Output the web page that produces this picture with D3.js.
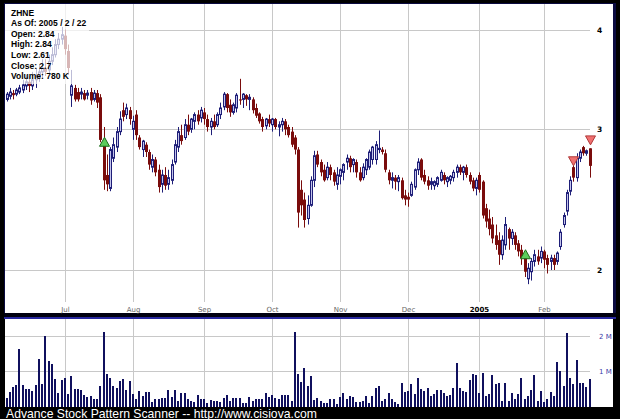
<!DOCTYPE html>
<html><head><meta charset="utf-8">
<script src="https://cdn.jsdelivr.net/npm/d3@7"></script>
<style>html,body{margin:0;padding:0;background:#000;} svg{display:block}</style>
</head><body>
<svg id="c" width="620" height="419"></svg>
<script>
const openP = [3.27,3.30,3.33,3.32,3.34,3.36,3.40,3.44,3.40,3.46, 3.48,3.54,3.58,3.56,3.65,3.72,3.83,3.89,3.93,3.76, 3.31,3.38,3.34,3.32,3.33,3.31,3.34,3.27,3.33,3.29, 2.91,2.63,2.53,2.76,2.85,2.98,3.17,3.13,3.17,3.00, 3.13,2.93,2.83,2.87,2.81,2.69,2.75,2.67,2.56,2.63, 2.56,2.59,2.73,2.85,2.95,2.93,3.04,3.00,3.07,3.13, 3.10,3.15,3.09,3.02,3.07,3.04,3.13,3.20,3.32,3.22, 3.15,3.19,3.27,3.27,3.31,3.27,3.27,3.19,3.14,3.09, 3.03,3.09,3.04,3.09,3.02,3.04,3.07,3.02,2.98,2.93, 2.83,2.52,2.45,2.32,2.41,2.59,2.79,2.73,2.67,2.61, 2.69,2.65,2.56,2.62,2.65,2.73,2.76,2.71,2.73,2.65, 2.61,2.67,2.69,2.75,2.75,2.83,2.83,2.80,2.65,2.59, 2.61,2.58,2.59,2.48,2.47,2.48,2.54,2.67,2.75,2.63, 2.59,2.56,2.55,2.56,2.59,2.63,2.58,2.59,2.61,2.65, 2.69,2.65,2.69,2.63,2.59,2.53,2.63,2.58,2.39,2.32, 2.28,2.21,2.18,2.09,2.15,2.25,2.19,2.21,2.16,2.12, 2.09,1.95,1.99,2.05,2.08,2.07,2.11,2.07,2.05,2.07, 2.05,2.14,2.28,2.37,2.51,2.69,2.61,2.76,2.85,2.80, 2.84];
const highP = [3.34,3.38,3.36,3.38,3.41,3.46,3.51,3.50,3.54,3.58, 3.62,3.67,3.67,3.72,3.80,3.89,3.96,4.03,4.00,3.83, 3.56,3.41,3.38,3.38,3.36,3.36,3.38,3.36,3.36,3.32, 3.02,2.79,2.85,2.93,3.02,3.16,3.24,3.23,3.20,3.12, 3.17,2.95,2.91,2.89,2.83,2.79,2.77,2.71,2.67,2.69, 2.67,2.75,2.91,3.02,3.04,3.09,3.13,3.10,3.15,3.17, 3.20,3.19,3.13,3.10,3.13,3.15,3.24,3.34,3.33,3.27, 3.24,3.33,3.47,3.33,3.32,3.32,3.29,3.23,3.15,3.11, 3.10,3.13,3.10,3.10,3.07,3.10,3.09,3.04,3.02,2.95, 2.85,2.59,2.50,2.48,2.62,2.82,2.82,2.75,2.71,2.73, 2.71,2.67,2.69,2.68,2.72,2.79,2.78,2.76,2.75,2.69, 2.72,2.76,2.83,2.86,2.90,2.99,2.85,2.83,2.67,2.65, 2.63,2.63,2.61,2.52,2.50,2.58,2.68,2.76,2.76,2.67, 2.62,2.61,2.59,2.62,2.67,2.65,2.62,2.63,2.67,2.71, 2.71,2.70,2.71,2.65,2.61,2.61,2.65,2.59,2.42,2.38, 2.33,2.28,2.23,2.21,2.33,2.26,2.25,2.23,2.18,2.15, 2.10,2.04,2.07,2.12,2.12,2.14,2.12,2.09,2.09,2.09, 2.11,2.25,2.36,2.52,2.62,2.71,2.80,2.83,2.86,2.83, 2.84];
const lowP = [3.25,3.27,3.27,3.30,3.32,3.33,3.36,3.34,3.36,3.38, 3.44,3.48,3.50,3.52,3.61,3.69,3.78,3.83,3.72,3.51, 3.20,3.25,3.25,3.27,3.26,3.27,3.22,3.25,3.19,2.89, 2.52,2.51,2.51,2.73,2.81,2.95,3.07,3.09,3.04,2.91, 2.91,2.83,2.77,2.77,2.67,2.65,2.62,2.50,2.50,2.52, 2.52,2.56,2.71,2.81,2.87,2.91,2.95,2.97,3.00,3.04, 3.06,3.04,2.98,2.95,3.00,3.02,3.09,3.17,3.15,3.11, 3.13,3.15,3.22,3.19,3.21,3.17,3.14,3.10,3.05,2.98, 3.00,3.02,2.98,3.00,2.94,2.98,2.95,2.93,2.85,2.79, 2.26,2.34,2.26,2.28,2.40,2.54,2.69,2.62,2.58,2.59, 2.59,2.55,2.52,2.56,2.59,2.67,2.65,2.65,2.61,2.58, 2.59,2.63,2.67,2.71,2.71,2.80,2.79,2.65,2.56,2.53, 2.52,2.51,2.45,2.41,2.40,2.47,2.52,2.63,2.59,2.56, 2.52,2.52,2.52,2.54,2.58,2.56,2.54,2.56,2.58,2.61, 2.63,2.59,2.61,2.56,2.51,2.48,2.50,2.32,2.26,2.21, 2.16,2.12,2.03,2.06,2.12,2.12,2.15,2.12,2.08,2.03, 1.96,1.92,1.94,2.02,2.03,2.04,2.01,1.98,2.00,2.00, 2.03,2.12,2.26,2.34,2.48,2.58,2.58,2.73,2.78,2.78, 2.61];
const closeP = [3.32,3.34,3.31,3.36,3.38,3.41,3.44,3.40,3.46,3.50, 3.54,3.58,3.54,3.65,3.72,3.83,3.89,3.94,3.78,3.58, 3.40,3.27,3.27,3.34,3.27,3.33,3.26,3.33,3.24,2.91, 2.59,2.56,2.83,2.87,2.98,3.09,3.11,3.19,3.09,3.07, 2.95,2.85,2.90,2.81,2.71,2.75,2.65,2.54,2.63,2.55, 2.61,2.71,2.87,2.98,2.90,3.04,2.98,3.09,3.13,3.07, 3.17,3.09,3.02,3.07,3.02,3.13,3.19,3.32,3.19,3.15, 3.22,3.31,3.26,3.32,3.27,3.29,3.17,3.12,3.07,3.02, 3.09,3.05,3.09,3.02,3.04,3.07,3.00,2.95,2.87,2.83, 2.36,2.41,2.31,2.41,2.59,2.78,2.71,2.65,2.59,2.69, 2.63,2.58,2.63,2.67,2.71,2.76,2.69,2.75,2.65,2.59, 2.69,2.75,2.81,2.85,2.87,2.84,2.81,2.67,2.59,2.61, 2.58,2.61,2.46,2.45,2.45,2.56,2.67,2.73,2.61,2.58, 2.55,2.58,2.58,2.61,2.65,2.59,2.61,2.62,2.65,2.69, 2.65,2.69,2.63,2.58,2.53,2.59,2.52,2.34,2.30,2.25, 2.19,2.15,2.09,2.18,2.28,2.19,2.23,2.15,2.11,2.07, 1.99,2.01,2.05,2.09,2.05,2.11,2.06,2.03,2.07,2.03, 2.10,2.23,2.34,2.50,2.59,2.61,2.76,2.81,2.80,2.82, 2.70];
// volume in millions of shares
const volumeM = [0.23,0.41,0.55,0.6,1.63,0.6,0.49,0.49,0.45,0.6, 1.36,0.63,2.0,1.3,1.2,0.79,0.39,0.74,0.82,0.36, 0.86,0.49,0.49,0.47,0.34,0.26,0.3,0.22,0.2,0.57, 2.12,0.91,0.8,0.57,0.53,0.71,0.79,0.47,0.71,0.36, 0.2,0.45,0.3,0.4,0.42,0.14,0.22,0.21,0.25,0.23, 0.47,0.27,0.47,0.15,0.37,0.37,0.2,0.15,0.12,0.32, 0.22,0.22,0.1,0.18,0.17,0.15,0.13,0.25,0.32,0.15, 0.23,0.25,0.23,0.11,0.11,0.27,0.17,0.2,0.2,0.22, 0.38,0.27,0.32,0.25,0.2,0.32,0.34,0.32,0.17,2.11, 0.93,0.7,1.1,0.57, 0.86,0.19,0.25,0.15,0.1,0.1, 0.2,0.2,0.08,0.27,0.38,0.2,0.3,0.27,0.12,0.12, 0.15,0.3,0.1,0.3,0.53,0.59,0.17,0.2,0.38,0.22, 0.13,0.07,0.66,0.4,0.44,0.63,0.36,0.8,0.5,0.45, 0.53,0.3,0.36,0.48,0.47,0.38,0.3,0.32,0.53,1.22, 0.53,0.45,0.4,0.74,0.92,0.88,0.38,0.96,0.3,0.36, 0.9,0.63,0.66,0.17,0.68,0.15,0.38,0.2,0.36,0.8, 0.2,0.3,0.47,0.88,0.15,0.45,0.12,0.2,0.4,0.3, 1.25,1.0,0.58,2.08,0.82,0.63,1.33,0.68,0.68,0.55, 0.78];
const monthTickIndex = [18,39,61,82,103,124,146,166];
const monthLabels = ["Jul","Aug","Sep","Oct","Nov","Dec","2005","Feb"];
const priceTicks = [2,3,4];
const volumeTicks = [1,2];
const volumeTickLabels = ["1 M","2 M"];
const upSignalIndex = [30,160];
const upSignalPrice = [2.89,2.09];
const downSignalIndex = [175,180];
const downSignalPrice = [2.74,2.91];
const legendLines = ["ZHNE","As Of: 2005 / 2 / 22","Open: 2.84","High: 2.84","Low: 2.61","Close: 2.7","Volume: 780 K"];
const footerText = "Advance Stock Pattern Scanner -- http://www.cisiova.com";

const svg = d3.select("#c");
const N = closeP.length;
const x = d3.scaleLinear().domain([0, N-1]).range([6.5, 589.5]);
const y = d3.scaleLog().domain([2,4]).range([270, 29.5]);
const v = d3.scaleLinear().domain([0,2]).range([406.5, 336]);
const px = i => Math.round(x(i));

// backgrounds
svg.append("rect").attr("width",620).attr("height",419).attr("fill","#000");
svg.append("rect").attr("x",4).attr("y",3).attr("width",612).attr("height",316).attr("fill","#0a0a40");
svg.append("rect").attr("x",5).attr("y",4).attr("width",608).attr("height",309).attr("fill","#fff");
svg.append("rect").attr("x",4).attr("y",313).attr("width",612).attr("height",4).attr("fill","#000010");
svg.append("rect").attr("x",4).attr("y",317).attr("width",612).attr("height",2).attr("fill","#2828a0");
svg.append("rect").attr("x",5).attr("y",319).attr("width",608).attr("height",88).attr("fill","#fff");

const grid = "#c8c8c8";
// price gridlines
const gP = svg.append("g");
gP.selectAll("line.h").data(priceTicks).join("line")
  .attr("x1",5).attr("x2",590)
  .attr("y1",d=>Math.round(y(d))+0.5).attr("y2",d=>Math.round(y(d))+0.5)
  .attr("stroke",grid).attr("stroke-width",1);
gP.selectAll("line.v").data(monthTickIndex).join("line")
  .attr("x1",d=>px(d)+0.5).attr("x2",d=>px(d)+0.5)
  .attr("y1",4).attr("y2",302)
  .attr("stroke",grid).attr("stroke-width",1);
gP.selectAll("text.p").data(priceTicks).join("text")
  .attr("x",597).attr("y",d=>y(d)+3)
  .attr("font-family","DejaVu Sans, Verdana, sans-serif").attr("font-size",7.5).attr("font-weight","bold")
  .attr("fill","#000").text(d=>d);
gP.selectAll("text.m").data(monthTickIndex).join("text")
  .attr("x",d=>px(d)+0.5).attr("y",312)
  .attr("text-anchor","middle")
  .attr("font-family","DejaVu Sans, Verdana, sans-serif").attr("font-size",7)
  .attr("font-weight",(d,i)=>monthLabels[i]==="2005"?"bold":"normal")
  .attr("fill",(d,i)=>monthLabels[i]==="2005"?"#000":"#666")
  .text((d,i)=>monthLabels[i]);

// volume gridlines
const gV = svg.append("g");
gV.selectAll("line.h").data(volumeTicks).join("line")
  .attr("x1",5).attr("x2",590)
  .attr("y1",d=>Math.round(v(d))+0.5).attr("y2",d=>Math.round(v(d))+0.5)
  .attr("stroke",grid);
gV.selectAll("line.v").data(monthTickIndex).join("line")
  .attr("x1",d=>px(d)+0.5).attr("x2",d=>px(d)+0.5)
  .attr("y1",319).attr("y2",407).attr("stroke",grid);
gV.selectAll("text").data(volumeTicks).join("text")
  .attr("x",599).attr("y",d=>v(d)+3)
  .attr("font-family","DejaVu Sans, Verdana, sans-serif").attr("font-size",7)
  .attr("fill","#3c3ca8").text((d,i)=>volumeTickLabels[i]);

// volume bars
gV.selectAll("rect.vb").data(volumeM).join("rect")
  .attr("x",(d,i)=>px(i)-1).attr("width",2)
  .attr("y",d=>Math.round(v(d))).attr("height",d=>407-Math.round(v(d)))
  .attr("fill","#10105e");

// candles
const idx = d3.range(N);
const up = i => closeP[i] >= openP[i];
const gC = svg.append("g");
gC.selectAll("line").data(idx).join("line")
  .attr("x1",i=>px(i)+0.5).attr("x2",i=>px(i)+0.5)
  .attr("y1",i=>y(highP[i])).attr("y2",i=>y(lowP[i]))
  .attr("stroke",i=>up(i)?"#1e1e78":"#7a0c0c").attr("stroke-width",1);
gC.selectAll("rect").data(idx).join("rect")
  .attr("x",i=>up(i)?px(i)-0.5:px(i)-1)
  .attr("width",i=>up(i)?2:3)
  .attr("y",i=>y(Math.max(openP[i],closeP[i])))
  .attr("height",i=>Math.max(1, y(Math.min(openP[i],closeP[i]))-y(Math.max(openP[i],closeP[i]))))
  .attr("fill",i=>up(i)?"#c4c4ec":"#7a0c0c")
  .attr("stroke",i=>up(i)?"#1e1e78":"none").attr("stroke-width",1);

// signals
const gS = svg.append("g");
gS.selectAll("path.u").data(upSignalIndex).join("path")
  .attr("d",(d,k)=>{const cx=px(d)+0.5, cy=y(upSignalPrice[k]); return `M${cx},${cy-5}L${cx+5},${cy+4}L${cx-5},${cy+4}Z`;})
  .attr("fill","#5ccc5c").attr("stroke","#1c6a1c").attr("stroke-width",1);
gS.selectAll("path.d").data(downSignalIndex).join("path")
  .attr("d",(d,k)=>{const cx=px(d)+0.5, cy=y(downSignalPrice[k]); return `M${cx-5},${cy-4}L${cx+5},${cy-4}L${cx},${cy+5}Z`;})
  .attr("fill","#f07070").attr("stroke","#b03a3a").attr("stroke-width",1);

// legend
svg.append("rect").attr("x",5).attr("y",4).attr("width",84).attr("height",80)
  .attr("fill","#fff").attr("opacity",0.7);
svg.append("g").selectAll("text").data(legendLines).join("text")
  .attr("x",11).attr("y",(d,i)=>15.5+i*10.6)
  .attr("font-family","Liberation Sans, Arial, sans-serif").attr("font-size",8.5).attr("font-weight","bold")
  .attr("fill","#000").text(d=>d);

// footer
svg.append("text").attr("x",6).attr("y",417.5)
  .attr("font-family","Liberation Sans, Arial, sans-serif").attr("font-size",12.2)
  .attr("fill","#fff").text(footerText);
</script>
</body></html>
